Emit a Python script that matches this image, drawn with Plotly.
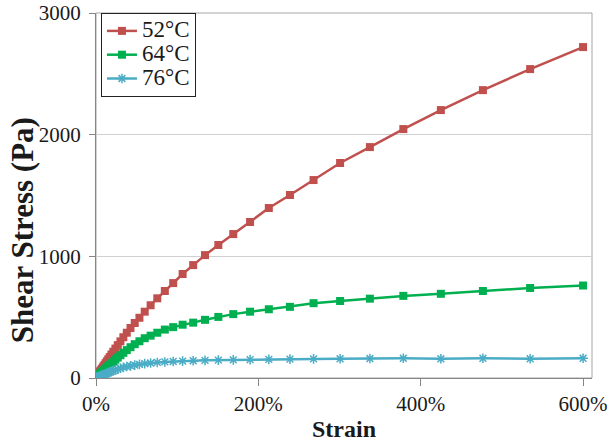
import plotly.graph_objects as go

# Strain (%) - log spaced measurement points
strain = [1.1, 1.2, 1.3, 1.5, 1.7, 1.9, 2.1, 2.4, 2.7, 3.0,
          3.4, 3.8, 4.2, 4.8, 5.3, 6.0, 6.7, 7.6, 8.5, 9.5,
          10.7, 12.0, 13.4, 15.1, 16.9, 19.0, 21.3, 23.9, 26.8, 30.1,
          33.7, 37.9, 42.5, 47.7, 53.5, 60.0, 67.3, 75.5, 84.8, 95.1,
          106.7, 119.7, 134.3, 150.7, 169.1, 189.8, 212.9, 238.9, 268.0, 300.7,
          337.4, 378.6, 424.8, 476.6, 534.8, 600.0]

# Shear stress (Pa)
stress_52 = [11, 12, 14, 16, 18, 20, 22, 25, 28, 31,
             35, 39, 44, 49, 55, 61, 69, 77, 87, 97,
             109, 122, 137, 154, 172, 193, 216, 242, 270, 301,
             335, 372, 411, 452, 495, 545, 598, 655, 715, 780,
             855, 928, 1010, 1093, 1183, 1282, 1397, 1504, 1627, 1767,
             1898, 2046, 2202, 2366, 2539, 2720]
stress_64 = [7, 8, 9, 10, 11, 12.5, 14, 16, 18, 20,
             22, 25, 28, 32, 35, 40, 44, 50, 56, 62,
             70, 78, 87, 97, 108, 121, 135, 151, 168, 187,
             207, 229, 253, 278, 302, 327, 348, 372, 398, 418,
             438, 455, 478, 502, 525, 545, 565, 585, 615, 633,
             652, 675, 692, 715, 740, 760]
stress_76 = [3, 3.3, 3.7, 4.2, 4.7, 5.3, 6, 6.7, 7.5, 8.5,
             9.5, 10.5, 12, 13, 15, 17, 19, 21, 24, 27,
             30, 34, 38, 43, 48, 54, 60, 66, 73, 80,
             87, 94, 100, 106, 112, 118, 123, 128, 132, 136,
             139, 142, 145, 147, 149, 151, 153, 155, 157, 158,
             160, 162, 158, 162, 158, 162]

names = ["52°C", "64°C", "76°C"]
x_ticks = [0, 200, 400, 600]
y_ticks = [0, 1000, 2000, 3000]
x_title = "Strain"
y_title = "Shear Stress (Pa)"

FONT = "Liberation Serif, Times New Roman, serif"
TXT = "#1a1a1a"


def leg(name):
    return f"<span style='font-size:23px'>{name}</span>"


fig = go.Figure()
fig.add_trace(go.Scatter(x=strain, y=stress_52, name=leg(names[0]), mode="lines+markers",
                         line=dict(color="#C0504D", width=2.5),
                         marker=dict(symbol="square", size=8, color="#C0504D")))
fig.add_trace(go.Scatter(x=strain, y=stress_64, name=leg(names[1]), mode="lines+markers",
                         line=dict(color="#00B050", width=2.5),
                         marker=dict(symbol="square", size=8, color="#00B050")))
fig.add_trace(go.Scatter(x=strain, y=stress_76, name=leg(names[2]), mode="lines+markers",
                         line=dict(color="#4BACC6", width=2.5),
                         marker=dict(symbol="asterisk-open", size=8,
                                     line=dict(color="#4BACC6", width=1.5))))

fig.update_layout(
    width=610, height=446,
    margin=dict(l=96, r=18, t=13, b=68, autoexpand=False),
    paper_bgcolor="white", plot_bgcolor="white",
    font=dict(family=FONT, size=21, color=TXT),
    showlegend=True,
    legend=dict(x=0.01, y=1, xanchor="left", yanchor="top",
                bgcolor="white", bordercolor="#222222", borderwidth=1,
                font=dict(family=FONT, size=16, color=TXT),
                itemwidth=30, tracegroupgap=0),
    xaxis=dict(range=[0, 611], tickvals=x_ticks, ticktext=[f"{v}%" for v in x_ticks],
               automargin=False,
               showgrid=False, zeroline=False,
               showline=True, linecolor="#868686", linewidth=1,
               ticks="outside", ticklen=7, tickcolor="#868686",
               tickfont=dict(family=FONT, size=21, color=TXT),
               title=dict(text=f"<b>{x_title}</b>", font=dict(family=FONT, size=24, color=TXT),
                          standoff=4)),
    yaxis=dict(range=[0, 3000], tickvals=y_ticks,
               automargin=False,
               showgrid=True, gridcolor="#D0D0D0", gridwidth=1, zeroline=False,
               showline=True, linecolor="#868686", linewidth=1,
               ticks="outside", ticklen=6, tickcolor="#868686",
               ticklabelstandoff=4,
               tickfont=dict(family=FONT, size=21, color=TXT)),
    annotations=[dict(text=f"<b>{y_title}</b>", textangle=-90, showarrow=False,
                      xref="paper", yref="paper", x=-0.149, y=0.405,
                      xanchor="center", yanchor="middle",
                      font=dict(family=FONT, size=31, color=TXT))],
    shapes=[dict(type="rect", xref="paper", yref="paper", x0=0, y0=0, x1=1, y1=1,
                 line=dict(color="#A6A6A6", width=1), fillcolor="rgba(0,0,0,0)", layer="below")],
)

fig.write_html("out.html")
